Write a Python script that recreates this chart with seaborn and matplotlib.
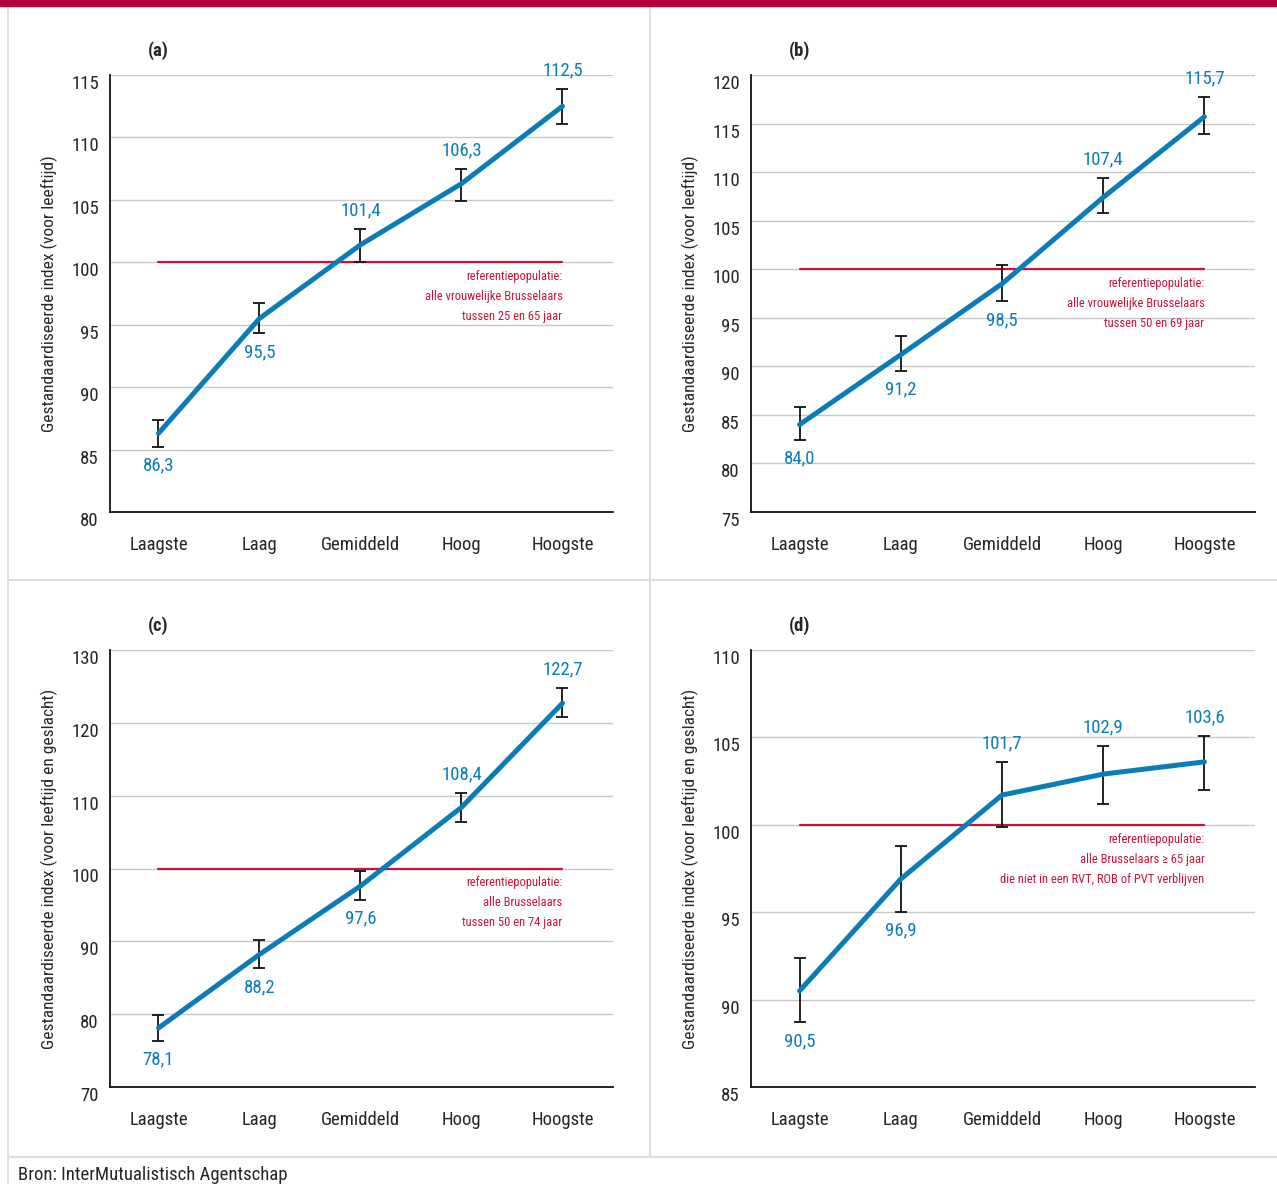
import matplotlib
matplotlib.use('Agg')
import matplotlib.pyplot as plt
from matplotlib.lines import Line2D
import seaborn as sns
import pandas as pd
import numpy as np

sns.set_style('white')
plt.rcParams['font.family'] = ['Roboto Condensed', 'Liberation Sans Narrow', 'Roboto', 'DejaVu Sans']

# DATA
categorieen = ['Laagste', 'Laag', 'Gemiddeld', 'Hoog', 'Hoogste']

waarden_a = [86.3, 95.5, 101.4, 106.3, 112.5]
onder_a = [85.2, 94.3, 100.0, 104.9, 111.1]
boven_a = [87.4, 96.7, 102.7, 107.5, 113.9]

waarden_b = [84.0, 91.2, 98.5, 107.4, 115.7]
onder_b = [82.4, 89.5, 96.7, 105.8, 113.9]
boven_b = [85.8, 93.1, 100.4, 109.4, 117.7]

waarden_c = [78.1, 88.2, 97.6, 108.4, 122.7]
onder_c = [76.3, 86.3, 95.7, 106.4, 120.8]
boven_c = [79.9, 90.2, 99.7, 110.4, 124.8]

waarden_d = [90.5, 96.9, 101.7, 102.9, 103.6]
onder_d = [88.7, 95.0, 99.9, 101.2, 102.0]
boven_d = [92.4, 98.8, 103.6, 104.5, 105.1]

# label boven (True) of onder (False) het punt
boven_label_a = [False, False, True, True, True]
boven_label_b = [False, False, False, True, True]
boven_label_c = [False, False, False, True, True]
boven_label_d = [False, False, True, True, True]

yticks_a = [80, 85, 90, 95, 100, 105, 110, 115]
yticks_b = [75, 80, 85, 90, 95, 100, 105, 110, 115, 120]
yticks_c = [70, 80, 90, 100, 110, 120, 130]
yticks_d = [85, 90, 95, 100, 105, 110]

ylabel_ab = 'Gestandaardiseerde index (voor leeftijd)'
ylabel_cd = 'Gestandaardiseerde index (voor leeftijd en geslacht)'

ref_a = 'referentiepopulatie:\nalle vrouwelijke Brusselaars\ntussen 25 en 65 jaar'
ref_b = 'referentiepopulatie:\nalle vrouwelijke Brusselaars\ntussen 50 en 69 jaar'
ref_c = 'referentiepopulatie:\nalle Brusselaars\ntussen 50 en 74 jaar'
ref_d = 'referentiepopulatie:\nalle Brusselaars \u2265 65 jaar\ndie niet in een RVT, ROB of PVT verblijven'

BLAUW = '#0a7db8'
ROOD = '#c8143c'
GRIJS = '#c9c9c9'

W, H = 1277, 1184
fig = plt.figure(figsize=(W / 100, H / 100), dpi=100)


def px_axes(left, top, right, bottom):
    return fig.add_axes([left / W, 1 - bottom / H, (right - left) / W, (bottom - top) / H])


def paneel(ax, letter, waarden, onder, boven, boven_label, yticks, ylabel, ref):
    x = np.arange(len(categorieen))
    df = pd.DataFrame({'x': x, 'waarde': waarden})
    ymin, ymax = yticks[0], yticks[-1]
    ax.set_xlim(-0.48, 4.5)
    ax.set_ylim(ymin, ymax)

    for t in yticks[1:]:
        ax.axhline(t, color=GRIJS, lw=1, zorder=1)

    ax.plot([0, 4], [100, 100], color=ROOD, lw=1.6, zorder=2)

    err = [np.array(waarden) - np.array(onder), np.array(boven) - np.array(waarden)]
    ax.errorbar(x, waarden, yerr=err, fmt='none', ecolor='#111111', elinewidth=1.3,
                capsize=4, capthick=1.3, zorder=3)
    sns.lineplot(data=df, x='x', y='waarde', ax=ax, color=BLAUW, lw=3.6, zorder=4)

    span = ymax - ymin
    for xi, v, b in zip(x, waarden, boven_label):
        lab = f'{v:.1f}'.replace('.', ',')
        if b:
            ax.text(xi, max(boven[xi], v) + span * 0.022, lab, color=BLAUW, fontsize=13.5,
                    ha='center', va='bottom')
        else:
            ax.text(xi, min(onder[xi], v) - span * 0.022, lab, color=BLAUW, fontsize=13.5,
                    ha='center', va='top')

    ax.text(4, 100 - span * 0.018, ref, color=ROOD, fontsize=9, ha='right', va='top',
            linespacing=1.7)

    ax.text(0, ymax + span * 0.035, letter, fontsize=13.5, fontweight='bold',
            ha='center', va='bottom')

    ax.set_xticks(x)
    ax.set_xticklabels(categorieen, fontsize=13.5)
    ax.set_yticks(yticks)
    ax.set_yticklabels([str(t) for t in yticks], fontsize=13.5)
    for lab in ax.get_yticklabels():
        lab.set_verticalalignment('top')
    ax.tick_params(axis='x', length=0, pad=17)
    ax.tick_params(axis='y', length=0, pad=8)
    ax.set_xlabel('')
    ax.set_ylabel('')
    ax.text(-0.12, 0.5, ylabel, transform=ax.transAxes, rotation=90, fontsize=12.5,
            ha='center', va='center')

    for s in ['top', 'right']:
        ax.spines[s].set_visible(False)
    for s in ['left', 'bottom']:
        ax.spines[s].set_color('#111111')
        ax.spines[s].set_linewidth(1.3)
    ax.patch.set_alpha(0)


ax_a = px_axes(110, 75, 613, 512)
ax_b = px_axes(751, 75, 1255, 512)
ax_c = px_axes(110, 650, 613, 1087)
ax_d = px_axes(751, 650, 1255, 1087)

paneel(ax_a, '(a)', waarden_a, onder_a, boven_a, boven_label_a, yticks_a, ylabel_ab, ref_a)
paneel(ax_b, '(b)', waarden_b, onder_b, boven_b, boven_label_b, yticks_b, ylabel_ab, ref_b)
paneel(ax_c, '(c)', waarden_c, onder_c, boven_c, boven_label_c, yticks_c, ylabel_cd, ref_c)
paneel(ax_d, '(d)', waarden_d, onder_d, boven_d, boven_label_d, yticks_d, ylabel_cd, ref_d)

# kader en balk bovenaan
rand = '#dedede'
fig.add_artist(Line2D([8 / W, 8 / W], [0, 1], color=rand, lw=1.5, transform=fig.transFigure))
fig.add_artist(Line2D([650 / W, 650 / W], [1 - 1157 / H, 1], color=rand, lw=1.5, transform=fig.transFigure))
fig.add_artist(Line2D([8 / W, 1], [1 - 580 / H, 1 - 580 / H], color=rand, lw=1.5, transform=fig.transFigure))
fig.add_artist(Line2D([8 / W, 1], [1 - 1157 / H, 1 - 1157 / H], color=rand, lw=1.5, transform=fig.transFigure))
fig.add_artist(plt.Rectangle((0, 1 - 6 / H), 1, 6 / H, color='#b3003a', transform=fig.transFigure,
                             zorder=10))

fig.text(18 / W, 1 - 1175 / H, 'Bron: InterMutualistisch Agentschap', fontsize=13.5,
         ha='left', va='center')

plt.savefig('out.png', dpi=100)
